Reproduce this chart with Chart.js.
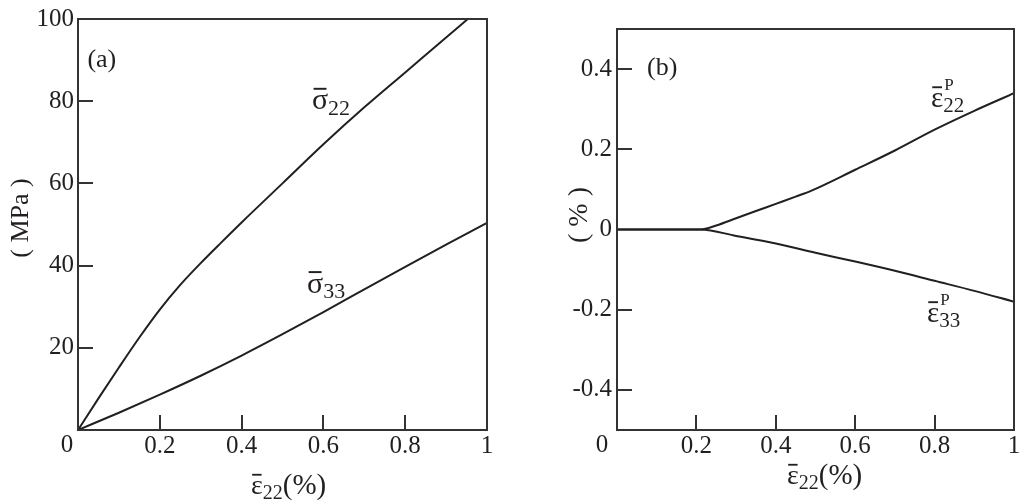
<!DOCTYPE html>
<html>
<head>
<meta charset="utf-8">
<script src="https://cdn.jsdelivr.net/npm/chart.js@4/dist/chart.umd.min.js"></script>
<style>
  html,body{margin:0;padding:0;background:#fff;}
  #wa{position:absolute;left:0;top:0;width:512px;height:501px;}
  #wb{position:absolute;left:512px;top:0;width:512px;height:501px;}
</style>
</head>
<body>
<div id="wa"><canvas id="ca" width="512" height="501"></canvas></div>
<div id="wb"><canvas id="cb" width="512" height="501"></canvas></div>
<script>
// ---------- data ----------
// Panel (a): stress vs. strain
const sig22X = [0, 0.05, 0.1, 0.15, 0.2, 0.25, 0.3, 0.35, 0.4, 0.5, 0.6, 0.7, 0.8, 0.9, 0.953];
const sig22Y = [0, 7.7, 15.2, 22.5, 29.3, 35.3, 40.6, 45.6, 50.5, 60, 69.5, 78.5, 87, 95.5, 100];
const sig33X = [0, 0.1, 0.2, 0.3, 0.4, 0.5, 0.6, 0.7, 0.8, 0.9, 1.0];
const sig33Y = [0, 4.2, 8.6, 13.2, 18.1, 23.3, 28.7, 34.2, 39.7, 45.1, 50.4];
// Panel (b): plastic strains vs. strain
const eps22pX = [0, 0.1, 0.21, 0.25, 0.3, 0.35, 0.4, 0.45, 0.49, 0.6, 0.7, 0.8, 0.9, 1.0];
const eps22pY = [0, 0, 0, 0.01, 0.028, 0.046, 0.064, 0.082, 0.097, 0.149, 0.197, 0.249, 0.296, 0.34];
const eps33pX = [0, 0.1, 0.21, 0.3, 0.4, 0.5, 0.6, 0.7, 0.8, 0.9, 1.0];
const eps33pY = [0, 0, 0, -0.016, -0.035, -0.058, -0.08, -0.103, -0.128, -0.153, -0.18];
// tick labels
const xTickValues = [0, 0.2, 0.4, 0.6, 0.8, 1];
const xTickLabels = ['0', '0.2', '0.4', '0.6', '0.8', '1'];
const yTickValuesA = [0, 20, 40, 60, 80, 100];
const yTickLabelsA = ['', '20', '40', '60', '80', '100'];
const yTickValuesB = [-0.4, -0.2, 0, 0.2, 0.4];
const yTickLabelsB = ['-0.4', '-0.2', '0', '0.2', '0.4'];
const yInwardA = [20, 40, 60, 80];
const yInwardB = [-0.4, -0.2, 0.2, 0.4];
const xInward = [0.2, 0.4, 0.6, 0.8];

// ---------- styling ----------
const INK = '#231f20';
const FRAME = '#333333';
const SERIF = '"Liberation Serif", "DejaVu Serif", serif';

function pts(xs, ys) { return xs.map((x, i) => ({x: x, y: ys[i]})); }
function lbl(values, labels) {
  return function (v) {
    for (let i = 0; i < values.length; i++) if (Math.abs(values[i] - v) < 1e-9) return labels[i];
    return '';
  };
}

// rich text: base glyph with overbar, subscript, optional superscript
function rich(ctx, x, y, base, sub, sup, size) {
  ctx.save();
  ctx.fillStyle = INK;
  ctx.textAlign = 'left';
  ctx.textBaseline = 'alphabetic';
  ctx.font = size + 'px ' + SERIF;
  ctx.fillText(base, x, y);
  const w = ctx.measureText(base).width;
  ctx.fillRect(x + w * 0.1, y - size * 0.72, w * 0.8, Math.max(1.8, size * 0.065));
  const ss = Math.round(size * 0.72);
  ctx.font = ss + 'px ' + SERIF;
  ctx.fillText(sub, x + w, y + size * 0.17);
  let tw = w + ctx.measureText(sub).width;
  if (sup) {
    ctx.font = Math.round(size * 0.6) + 'px ' + SERIF;
    ctx.fillText(sup, x + w + 1, y - size * 0.6);
  }
  ctx.restore();
  return tw;
}

function framePlugin(opts) {
  return {
    id: 'frame_' + opts.id,
    afterDatasetsDraw(chart) {
      const ctx = chart.ctx;
      const a = chart.chartArea;
      const xs = chart.scales.x, ys = chart.scales.y;
      ctx.save();
      ctx.strokeStyle = FRAME;
      ctx.lineWidth = 2;
      ctx.strokeRect(a.left, a.top, a.right - a.left, a.bottom - a.top);
      // inward ticks
      ctx.beginPath();
      xInward.forEach(v => {
        const px = Math.round(xs.getPixelForValue(v));
        ctx.moveTo(px, a.bottom); ctx.lineTo(px, a.bottom - 15);
      });
      opts.yInward.forEach(v => {
        const py = Math.round(ys.getPixelForValue(v));
        ctx.moveTo(a.left, py); ctx.lineTo(a.left + 15, py);
      });
      ctx.stroke();
      // origin label "0"
      ctx.fillStyle = INK;
      ctx.font = '25px ' + SERIF;
      ctx.textAlign = 'center';
      ctx.textBaseline = 'middle';
      ctx.fillText(xTickLabels[0], xs.getPixelForValue(0) - opts.zeroShift, a.bottom + 15);
      // panel letter
      ctx.font = '26px ' + SERIF;
      ctx.textAlign = 'left';
      ctx.textBaseline = 'alphabetic';
      ctx.fillText(opts.panel, xs.getPixelForValue(opts.panelAt[0]), ys.getPixelForValue(opts.panelAt[1]));
      // curve labels
      opts.curveLabels.forEach(c => {
        rich(ctx, xs.getPixelForValue(c.at[0]), ys.getPixelForValue(c.at[1]), c.base, c.sub, c.sup, c.size);
      });
      // x axis title
      const tx = opts.xTitleX, ty = opts.xTitleY;
      const w = rich(ctx, tx, ty, 'ε', '22', null, 28);
      ctx.font = '29px ' + SERIF;
      ctx.fillStyle = INK;
      ctx.fillText('(%)', tx + w, ty);
      // y axis title
      ctx.save();
      ctx.translate(opts.yTitleAt[0], opts.yTitleAt[1]);
      ctx.rotate(-Math.PI / 2);
      ctx.textAlign = 'center';
      ctx.textBaseline = 'middle';
      ctx.font = opts.yTitleSize + 'px ' + SERIF;
      ctx.fillText(opts.yTitle, 0, 0);
      ctx.restore();
      ctx.restore();
    }
  };
}

function lineDs(xs, ys) {
  return {
    data: pts(xs, ys),
    borderColor: INK,
    borderWidth: 2,
    pointRadius: 0,
    fill: false,
    cubicInterpolationMode: 'monotone'
  };
}

function baseOptions(o) {
  return {
    responsive: false,
    animation: false,
    events: [],
    layout: {padding: o.padding},
    plugins: {legend: {display: false}, tooltip: {enabled: false}},
    scales: {
      x: {
        type: 'linear', min: 0, max: 1,
        border: {display: false},
        grid: {display: false, drawTicks: false},
        afterBuildTicks: s => { s.ticks = xTickValues.map(v => ({value: v})); },
        afterFit: s => { s.height = 71; },
        ticks: {
          color: INK, font: {family: SERIF, size: 25}, padding: 1,
          maxRotation: 0, autoSkip: false,
          callback: v => (Math.abs(v) < 1e-9 ? '' : lbl(xTickValues, xTickLabels)(v))
        }
      },
      y: {
        type: 'linear', min: o.yMin, max: o.yMax,
        border: {display: false},
        grid: {display: false, drawTicks: false},
        afterBuildTicks: s => { s.ticks = o.yVals.map(v => ({value: v})); },
        afterFit: s => { s.width = o.yWidth; },
        ticks: {
          color: INK, font: {family: SERIF, size: 25}, padding: o.yPad,
          autoSkip: false,
          callback: lbl(o.yVals, o.yLabels)
        }
      }
    }
  };
}

new Chart(document.getElementById('ca'), {
  type: 'line',
  data: {datasets: [lineDs(sig22X, sig22Y), lineDs(sig33X, sig33Y)]},
  options: baseOptions({padding: {top: 17, right: 25, left: 0, bottom: 0}, yMin: 0, yMax: 100,
    yVals: yTickValuesA, yLabels: yTickLabelsA, yWidth: 78, yPad: 4}),
  plugins: [framePlugin({
    id: 'a', yInward: yInwardA, zeroShift: 11,
    panel: '(a)', panelAt: [0.023, 88.4],
    curveLabels: [
      {base: 'σ', sub: '22', sup: null, size: 30, at: [0.572, 78.0]},
      {base: 'σ', sub: '33', sup: null, size: 30, at: [0.56, 33.4]}
    ],
    xTitleX: 251, xTitleY: 494,
    yTitle: '( MPa )', yTitleAt: [21, 218], yTitleSize: 26
  })]
});

new Chart(document.getElementById('cb'), {
  type: 'line',
  data: {datasets: [lineDs(eps22pX, eps22pY), lineDs(eps33pX, eps33pY)]},
  options: baseOptions({padding: {top: 29, right: 10, left: 0, bottom: 0}, yMin: -0.5, yMax: 0.5,
    yVals: yTickValuesB, yLabels: yTickLabelsB, yWidth: 105, yPad: 5}),
  plugins: [framePlugin({
    id: 'b', yInward: yInwardB, zeroShift: 15,
    panel: '(b)', panelAt: [0.0756, 0.385],
    curveLabels: [
      {base: 'ε', sub: '22', sup: 'P', size: 29, at: [0.791, 0.305]},
      {base: 'ε', sub: '33', sup: 'P', size: 29, at: [0.781, -0.231]}
    ],
    xTitleX: 275, xTitleY: 484,
    yTitle: '( % )', yTitleAt: [68, 215], yTitleSize: 28
  })]
});
</script>
</body>
</html>
